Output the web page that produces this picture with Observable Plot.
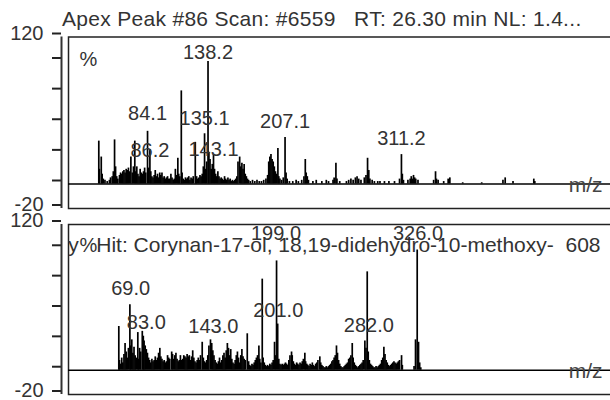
<!DOCTYPE html>
<html><head><meta charset="utf-8">
<script src="https://cdn.jsdelivr.net/npm/d3@7"></script>
<script src="https://cdn.jsdelivr.net/npm/@observablehq/plot@0.6"></script>
<style>
html,body{margin:0;padding:0;background:#fff;overflow:hidden;}
#wrap{position:relative;width:610px;height:400px;font-family:"Liberation Sans",Arial,sans-serif;}
#title{position:absolute;left:62px;top:8px;font-size:21px;line-height:21px;letter-spacing:0.3px;color:#333;white-space:pre;}
.panel{position:absolute;left:0;}
.panel svg{overflow:visible;}
svg text{white-space:pre;}
</style></head><body>
<div id="wrap"><div id="title"></div><div id="p1" class="panel" style="top:0px"></div><div id="p2" class="panel" style="top:214px"></div></div>
<script>
// ---- data ----
const titleText = "Apex Peak #86 Scan: #6559   RT: 26.30 min NL: 1.4...";
const hitText = "Library   Hit: Corynan-17-ol, 18,19-didehydro-10-methoxy-  608";
const yTicks = [120, 100, 75, 50, 25, 0, -20];
const yTickLabels = ["120", "", "", "", "", "", "-20"];
const mzDomain = [13.4, 498.2];

// [m/z, relative abundance %]
const topPeaks = [
[40.5,35],[41,12],[42.7,22],[43.5,8],[44.5,4],[46,3],[48,2],[50,3],[51,5],[52.5,6],
[53.5,10],[54.6,36],[55.5,14],[56.5,6],[57.5,4],[59,7],[60,9],[61,8],[62,10],[63,11],
[64,9],[65,12],[66,11],[67,13],[68,10],[69.2,22],[70.5,9],[71.5,14],[72.7,35],[73.5,10],
[74.5,14],[75.5,8],[76.5,6],[77.5,12],[78.5,9],[79.5,8],[80.5,10],[81.5,13],[82.5,9],[84.1,43],
[85,13],[86.2,28],[87,10],[88,6],[89,5],[90,7],[91,11],[92,6],[93,8],[94,5],
[95,9],[96,7],[97,9],[98,5],[99,6],[100,4],[101,5],[102,6],[103,4],[104,4],
[105,8],[106,5],[107,3],[108,4],[109,12],[110,7],[111.2,21],[112,8],[113,6],[114.3,76],
[115,9],[116,4],[117,3],[118,5],[119,4],[120,5],[121,6],[122,3],[123,5],[124,4],
[125,6],[126.8,34],[127.5,5],[128,6],[129,4],[130,5],[131,7],[132,6],[133,8],[134,14],
[135.1,41],[136,12],[137,18],[138.2,100],[139,26],[140,20],[141,12],[142,16],[143.1,24],[144,12],
[145,8],[146,6],[147,10],[148,6],[149,4],[150,5],[151,4],[152,3],[153,6],[154,4],
[155,3],[156,5],[157,3],[158,4],[159,2],[160,3],[161,2],[162,3],[163,4],[164,6],
[165,18],[166.5,22],[167.5,14],[168.5,17],[169.5,12],[170.5,16],[171.5,8],[172.5,6],[173.5,4],[174.5,3],
[176,2],[178,3],[180,2],[182,3],[184,2],[186,2],[188,3],[190,4],[191.5,7],[192.5,18],
[193.5,22],[194.5,24],[195.5,20],[196.5,18],[197.5,14],[198.5,10],[199.5,8],[200.7,29],[201.5,6],[202.5,4],
[204,3],[205.5,5],[207.1,38],[208,9],[209,4],[211,2],[214,2],[217,3],[219,2],[222,3],
[224,6],[225.2,20],[226,9],[227,6],[228,3],[232,2],[235,3],[240,2],[244,3],[246,2],
[250,3],[251,5],[252.6,17],[253.5,4],[256,2],[262,2],[264,3],[266,4],[268,3],[270,5],
[271.5,6],[273,4],[275,3],[278,5],[279.5,7],[280.9,21],[282,11],[283,4],[285,3],[287,2],
[290,2],[292,2],[296,2],[300,2],[305,2],[309.5,4],[311.2,24],[312,8],[313,3],[317,3],
[319,4],[320,6],[321,4],[322,7],[323,5],[324,4],[326,3],[340,3],[341.7,10],[342.5,4],
[344,3],[349,2],[353,4],[354.5,5],[366,1],[383,1],[402,3],[404,5],[411,2],[429.6,4],
[430.5,2]
];
const topLabels = ["84.1","86.2","135.1","138.2","143.1","207.1","311.2"];
const topLabelLevel = [57.5, 27.6, 53.4, 107.6, 28.2, 50.7, 37.1];

const bottomPeaks = [
[58.4,36],[59,8],[60,5],[61,10],[62,6],[63,13],[64,22],[65,15],[66,10],[67,18],
[68.3,54],[69,20],[70,25],[71,14],[72,19],[73,12],[74,10],[75.4,31],[76,9],[77,18],
[78,15],[79.4,32],[80.3,28],[81,24],[82,20],[83,17],[84,14],[85,10],[86,8],[87,6],
[88,9],[89,7],[90,8],[91,11],[92,8],[93,10],[94,14],[95.1,18],[96,11],[97,9],
[98,7],[99,8],[100,6],[101,7],[102,12],[103,10],[104,9],[105.7,15],[106.5,13],[107.5,9],
[108.5,12],[109.5,14],[110.5,9],[111.5,7],[112.5,8],[113.5,12],[114.5,8],[115.5,9],[116.5,12],[117.5,11],
[118.5,10],[119.5,13],[120.5,11],[121.5,12],[122.5,8],[123.5,11],[124.5,16],[125.5,10],[126.5,7],[127.5,6],
[128.5,8],[129.5,10],[130.5,8],[131.5,12],[133,23],[134,10],[135,7],[136,6],[137,8],[138,12],
[139,20],[140.4,25],[141.5,22],[142.5,16],[143.5,12],[144.5,8],[145.5,6],[146.5,5],[147.5,7],[148.5,10],
[149.5,6],[150.5,8],[151.5,12],[152.5,14],[153.5,10],[154.5,16],[155.5,22],[156.5,18],[157.5,12],[158.5,17],
[159.5,9],[160.5,6],[161.5,5],[162.5,8],[163.5,12],[164.5,15],[165.5,10],[166.5,6],[167.5,12],[168.5,17],
[169.5,11],[170.5,9],[171.5,8],[173.3,30],[174.5,7],[175.5,4],[176.5,3],[177.5,5],[178.5,4],[179.5,6],
[180.5,8],[181.5,10],[182.5,12],[183.7,20],[184.5,9],[185.5,6],[186.7,75],[187.5,10],[188.5,6],[189.5,4],
[190.5,3],[191.5,4],[192.5,3],[193.5,5],[194.5,4],[195.5,6],[196.5,8],[197.7,23],[198.5,12],[199.5,90],
[200.5,38],[201.5,9],[202.5,5],[203.5,4],[204.5,5],[205.5,4],[206.5,5],[207.5,6],[208.5,5],[209.5,4],
[210.5,8],[211.5,12],[212.9,15],[213.5,12],[214.5,7],[215.5,5],[216.5,4],[217.5,6],[218.5,5],[219.5,4],
[220.5,6],[221.5,5],[222.5,7],[223.5,9],[224.8,14],[225.5,7],[226.5,5],[227.5,4],[228.5,3],[229.5,5],
[230.5,4],[231.5,6],[232.5,4],[233.5,3],[234.5,5],[235.5,6],[236.5,8],[238.2,11],[239,6],[240,4],
[241,3],[242,2],[243,2],[244,3],[245,2],[246,3],[247,4],[248,5],[249,7],[250,8],
[251,10],[252,12],[253.1,20],[254,14],[255,8],[256,5],[257,3],[258,2],[259,2],[260,3],
[261,4],[262,5],[263,6],[264,9],[265,10],[266,12],[267.2,22],[268,10],[269,6],[270,4],
[271,3],[272,2],[273,3],[274,4],[275,5],[276,6],[277,8],[278.5,24],[279.5,18],[280.6,81],
[281.5,15],[282.5,8],[283.5,5],[284.5,4],[285.5,3],[286.5,2],[287.5,2],[288.5,3],[289.5,2],[290.5,3],
[291.5,4],[292.5,5],[293.5,8],[294.5,10],[295.5,19],[296.5,13],[297.5,8],[298.5,6],[299.5,4],[300.5,3],
[301.5,4],[302.5,5],[303.5,6],[304.5,7],[305.5,6],[306.5,5],[307.5,6],[308.5,7],[309.5,8],[311.3,12],
[312,4],[322.5,3],[323.8,25],[325.3,99],[326.5,23],[327.5,6],[328.5,2]
];
const bottomLabels = ["69.0","83.0","143.0","199.0","201.0","282.0","326.0"];
const bottomLabelLevel = [67.3, 39.5, 36.0, 112.3, 49.2, 36.8, 112.6];

// ---- drawing ----
document.getElementById("title").textContent = titleText;
const FONT = "'Liberation Sans', Arial, sans-serif";
const TEXT = "#333";

function panel({peaks, labels, levels, height, marginTop, header}) {
  const data = peaks.map(([mz, v]) => ({mz, v}));
  const lab = labels.map((t, i) => ({t, mz: +t, y: levels[i]}));
  return Plot.plot({
    width: 610, height, marginTop, marginBottom: 6, marginLeft: 68, marginRight: 0,
    x: {domain: mzDomain, axis: null},
    y: {domain: [-20, 120], axis: null},
    style: {fontFamily: FONT, fontSize: "20px", background: "transparent", overflow: "visible"},
    marks: [
      Plot.axisY(yTicks, {anchor: "left", tickSize: 9, tickPadding: 9, dx: -7, stroke: "#222", strokeWidth: 2,
        tickFormat: d => yTickLabels[yTicks.indexOf(d)], fill: TEXT, fontSize: 20, dy: -3.5}),
      Plot.ruleX([mzDomain[0]], {y1: -20, y2: 120, dx: -7, stroke: "#333", strokeWidth: 2}),
      Plot.frame({stroke: "#222", strokeWidth: 1.5, insetRight: -4}),
      Plot.ruleX(data, {x: "mz", y1: 0, y2: "v", stroke: "#000", strokeWidth: 1.7}),
      Plot.ruleY([0], {stroke: "#000", strokeWidth: 1.5, insetRight: -4}),
      header ? Plot.text([header], {frameAnchor: "top-right", textAnchor: "end", lineAnchor: "middle",
        dx: -10, dy: 21, fill: TEXT, fontSize: 21, clip: "frame"}) : null,
      Plot.text(["%"], {frameAnchor: "top-left", textAnchor: "middle", lineAnchor: "middle",
        dx: 20, dy: header ? 21 : 22.5, fill: TEXT, fontSize: 20}),
      Plot.text(lab, {x: "mz", y: "y", text: "t", lineAnchor: "middle", fill: TEXT, fontSize: 20}),
      Plot.text([{t: "m/z", y: 0}], {y: "y", text: "t", frameAnchor: "right", textAnchor: "end",
        lineAnchor: "middle", dx: -8, dy: 1.5, fill: "#444", fontSize: 21})
    ]
  });
}

document.getElementById("p1").append(panel({peaks: topPeaks, labels: topLabels, levels: topLabelLevel,
  height: 214, marginTop: 36.5}));
document.getElementById("p2").append(panel({peaks: bottomPeaks, labels: bottomLabels, levels: bottomLabelLevel,
  height: 186, marginTop: 10, header: hitText}));
</script>
</body></html>
